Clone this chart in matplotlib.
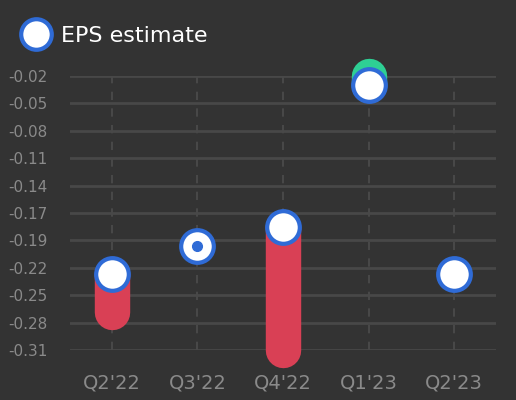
import numpy as np
import matplotlib.pyplot as plt
from matplotlib.lines import Line2D

quarters = ["Q2'22", "Q3'22", "Q4'22", "Q1'23", "Q2'23"]
eps_estimate = [-0.23, -0.20, -0.18, -0.03, -0.23]
eps_actual = [-0.27, -0.20, -0.31, -0.02, None]

bg = "#333333"
grid_c = "#484848"
text_c = "#8a8a8a"
blue = "#2f6bd6"
red = "#d94055"
green = "#2ecf94"

fig = plt.figure(figsize=(5.16, 4.0), dpi=100, facecolor=bg)
ax = fig.add_axes([70 / 516, 1 - 350 / 400, 426 / 516, 274 / 400])
ax.set_facecolor(bg)

x = np.arange(len(quarters))

for i, (est, act) in enumerate(zip(eps_estimate, eps_actual)):
    if act is None:
        continue
    if act == est:
        continue
    col = green if act > est else red
    ax.plot([i, i], [est, act], color=col, lw=25.5, solid_capstyle="round",
            zorder=3, clip_on=False)

ax.plot(x, eps_estimate, linestyle="none", marker="o", markersize=23.5,
        markerfacecolor="white", markeredgecolor=blue, markeredgewidth=3,
        zorder=4, clip_on=False)

# actual equal to estimate: small dot in the middle
for i, (est, act) in enumerate(zip(eps_estimate, eps_actual)):
    if act is not None and act == est:
        ax.plot(i, act, marker="o", markersize=7, color=blue, zorder=5,
                clip_on=False)

vals = [v for v in eps_estimate + eps_actual if v is not None]
lo, hi = min(vals), max(vals)
ax.set_ylim(lo, hi)
ax.set_xlim(-0.49, len(quarters) - 0.51)

ticks = np.linspace(lo, hi, 11)
ax.set_yticks(ticks)
ax.set_yticklabels([f"{t:.2f}" for t in ticks])
ax.set_xticks(x)
ax.set_xticklabels(quarters)

for t in ticks:
    ax.axhline(t, color=grid_c, lw=2, zorder=1)
for i in x:
    ax.plot([i, i], [lo, hi], color=grid_c, lw=1.5, linestyle=(0, (4, 4)),
            zorder=1)

for s in ax.spines.values():
    s.set_visible(False)
ax.tick_params(axis="both", length=0, colors=text_c)
ax.tick_params(axis="y", labelsize=11, pad=44.5)
ax.tick_params(axis="x", labelsize=14, pad=17)
for lab in ax.get_yticklabels():
    lab.set_horizontalalignment("left")

handle = Line2D([], [], linestyle="none", marker="o", markersize=22,
                markerfacecolor="white", markeredgecolor=blue,
                markeredgewidth=3)
leg = fig.legend([handle], ["EPS estimate"], loc="center left",
                 bbox_to_anchor=(3 / 516, 1 - 36 / 400), frameon=False,
                 fontsize=16, handletextpad=0.0, borderaxespad=0.0,
                 handlelength=2.2)
for t in leg.get_texts():
    t.set_color("white")

fig.savefig("out.png", dpi=100, facecolor=bg)
